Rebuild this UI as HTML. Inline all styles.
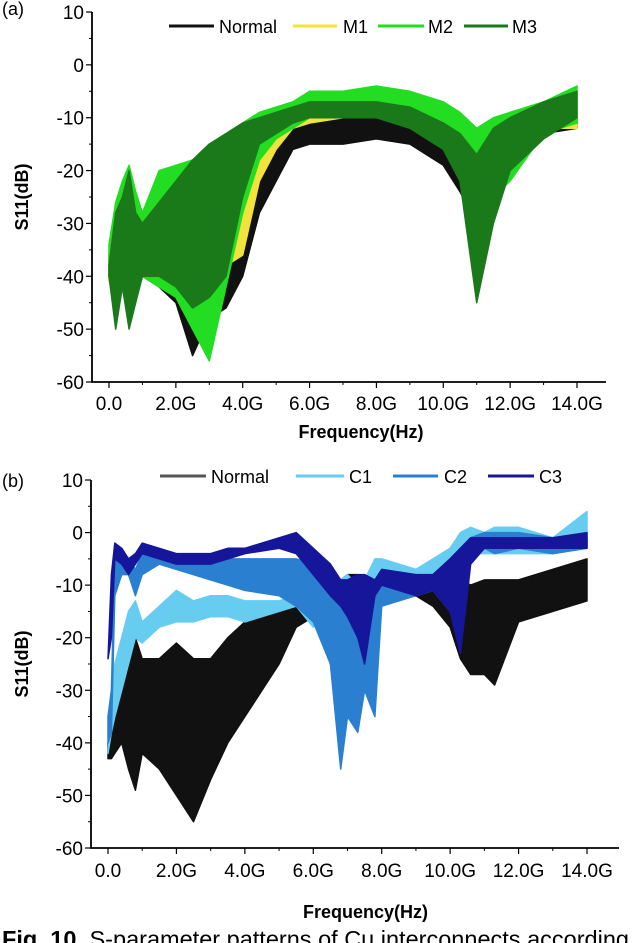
<!DOCTYPE html>
<html><head><meta charset="utf-8">
<style>
html,body{margin:0;padding:0;background:#fff;width:640px;height:943px;overflow:hidden}
svg{display:block}
text{font-family:"Liberation Sans",sans-serif}
</style></head>
<body>
<svg id="fig" width="640" height="943" viewBox="0 0 640 943" xmlns="http://www.w3.org/2000/svg"></svg>
<script>
// ---- Panel (a) data ----
const freqA = [0,0.2,0.4,0.6,0.8,1.0,1.5,2.0,2.5,3.0,3.5,4.0,4.5,5.0,5.5,6,7,8,9,10,10.5,11,11.5,12,13,14];
const normalAUp = [-36,-30,-28,-25,-30,-32,-28,-26,-24,-22,-22,-20,-18,-16,-12,-10,-9,-10,-11,-13,-15,-17,-14,-13,-11,-9];
const normalALo = [-40,-42,-40,-45,-44,-40,-42,-45,-55,-48,-46,-40,-28,-22,-16,-15,-15,-14,-15,-19,-24,-30,-28,-17,-13,-12];
const m1Up = [-35,-28,-25,-22,-25,-28,-22,-19,-20,-22,-18,-14,-11,-9,-8,-7,-6,-6,-7,-9,-11,-14,-12,-11,-8,-6];
const m1Lo = [-41,-40,-38,-40,-40,-38,-40,-42,-50,-50,-38,-36,-22,-16,-12,-11,-10,-10,-11,-14,-18,-25,-22,-15,-12,-12];
const m2Up = [-34,-26,-22,-19,-24,-28,-20,-19,-18,-15,-13,-11,-9,-8,-7,-5,-5,-4,-5,-7,-9,-12,-10,-9,-7,-4];
const m2Lo = [-40,-48,-40,-46,-42,-40,-42,-44,-50,-56,-42,-28,-18,-14,-12,-10,-9,-9,-10,-14,-20,-35,-25,-22,-13,-11];
const m3Up = [-38,-28,-25,-20,-28,-30,-26,-22,-18,-15,-13,-11,-10,-9,-8,-7,-7,-7,-8,-11,-13,-17,-12,-10,-7,-5];
const m3Lo = [-40,-50,-42,-50,-45,-40,-40,-42,-46,-44,-40,-25,-15,-13,-11,-10,-10,-10,-12,-16,-22,-45,-30,-20,-14,-10];
// ---- Panel (b) data ----
const freqB = [0,0.1,0.2,0.4,0.6,0.8,1.0,1.5,2.0,2.5,3,3.5,4,5,5.5,6,6.5,6.8,7,7.3,7.5,7.8,8,9,9.5,10,10.3,10.6,11,11.3,12,13,14];
const normalBUp = [-40,-38,-30,-28,-26,-20,-24,-24,-21,-24,-24,-20,-17,-15,-13,-12,-10,-9,-8,-8,-9,-10,-8,-10,-9,-9,-9,-10,-9,-9,-9,-7,-5];
const normalBLo = [-43,-43,-42,-40,-45,-49,-42,-45,-50,-55,-47,-40,-35,-25,-18,-16,-15,-14,-13,-13,-13,-13,-13,-12,-14,-18,-24,-27,-27,-29,-17,-15,-13];
const c1Up = [-42,-30,-25,-20,-15,-13,-17,-14,-11,-13,-12,-12,-13,-13,-12,-12,-10,-9,-8,-10,-9,-5,-5,-7,-5,-3,0,1,0,1,1,-1,4];
const c1Lo = [-42,-38,-35,-30,-25,-20,-21,-18,-17,-17,-16,-16,-17,-15,-14,-18,-15,-15,-16,-15,-15,-13,-12,-12,-11,-10,-7,-4,-4,-4,-4,-4,-3];
const c2Up = [-35,-30,-5,-3,-5,-7,-4,-4,-5,-5,-5,-5,-5,-5,-5,-6,-8,-9,-10,-11,-11,-10,-9,-10,-8,-5,-3,-1,0,0,0,-1,-1];
const c2Lo = [-40,-38,-12,-8,-8,-12,-8,-6,-7,-8,-9,-10,-11,-12,-14,-17,-25,-45,-35,-38,-30,-35,-14,-12,-11,-15,-20,-5,-3,-4,-3,-4,-3];
const c3Up = [-24,-8,-2,-3,-5,-4,-2,-3,-4,-4,-4,-3,-3,-1,0,-3,-6,-9,-9,-8,-8,-9,-7,-8,-8,-5,-3,-1,-1,-1,-1,-1,0];
const c3Lo = [-24,-20,-5,-6,-8,-6,-4,-5,-6,-6,-6,-5,-4,-3,-4,-8,-12,-14,-16,-20,-25,-12,-10,-12,-11,-15,-23,-6,-3,-3,-3,-3,-3];
const yTicks = [10,0,-10,-20,-30,-40,-50,-60];
const xTicks = [0,2,4,6,8,10,12,14];
const xTickLabels = ["0.0","2.0G","4.0G","6.0G","8.0G","10.0G","12.0G","14.0G"];

const NS="http://www.w3.org/2000/svg";
const svg=document.getElementById('fig');
function mk(tag,attrs,parent,txt){const e=document.createElementNS(NS,tag);for(const k in attrs)e.setAttribute(k,attrs[k]);if(txt!==undefined)e.textContent=txt;(parent||svg).appendChild(e);return e;}

function panel(cfg){
  const g=mk('g',{});
  
  
  const xs=v=>cfg.x0+(v-0)/14*(cfg.x14-cfg.x0);
  const ys=v=>cfg.yTop+(10-v)/70*(cfg.yBot-cfg.yTop);
  cfg.series.forEach(s=>{
    let d='M'+cfg.f.map((f,i)=>xs(f).toFixed(1)+','+ys(s.up[i]).toFixed(1)).join(' L');
    for(let i=cfg.f.length-1;i>=0;i--) d+=' L'+xs(cfg.f[i]).toFixed(1)+','+ys(s.lo[i]).toFixed(1);
    d+='Z';
    const p=mk('path',{d:d,fill:s.color,stroke:s.color,'stroke-width':1.5,'stroke-linejoin':'round'},g);
    
    
  });
  const ax=mk('path',{d:`M${cfg.ax},${cfg.yTop} L${cfg.ax},${cfg.yBot} L${cfg.xEnd},${cfg.yBot}`,fill:'none',stroke:'#000','stroke-width':1.8},g);
  
  
  yTicks.forEach(v=>{
    mk('line',{x1:cfg.ax-6,x2:cfg.ax,y1:ys(v),y2:ys(v),stroke:'#000','stroke-width':1.2},g);
    if(v>-60) mk('line',{x1:cfg.ax-3,x2:cfg.ax,y1:ys(v-5),y2:ys(v-5),stroke:'#000','stroke-width':1},g);
    const t=mk('text',{x:cfg.ax-8,y:ys(v)+7,'text-anchor':'end','font-size':19,fill:'#000'},g,String(v));
    
    
  });
  xTicks.forEach((v,i)=>{
    mk('line',{x1:xs(v),x2:xs(v),y1:cfg.yBot,y2:cfg.yBot+6,stroke:'#000','stroke-width':1.2},g);
    if(v<14) mk('line',{x1:xs(v+1),x2:xs(v+1),y1:cfg.yBot,y2:cfg.yBot+3,stroke:'#000','stroke-width':1},g);
    const t=mk('text',{x:xs(v),y:cfg.xLabY,'text-anchor':'middle','font-size':19,fill:'#000'},g,xTickLabels[i]);
    
    
  });
  const xt=mk('text',{x:(cfg.x0+cfg.x14)/2+18,y:cfg.xTitleY,'text-anchor':'middle','font-size':18,'font-weight':'bold'},g,'Frequency(Hz)');
  
  
  const yt=mk('text',{x:0,y:0,transform:`translate(28,${(cfg.yTop+cfg.yBot)/2}) rotate(-90)`,'text-anchor':'middle','font-size':18,'font-weight':'bold'},g,'S11(dB)');
  
  
  const pl=mk('text',{x:2,y:cfg.labY,'font-size':18,'font-family':'Liberation Serif'},g,cfg.label);
  
  
  cfg.legend.forEach(l=>{
    const le=mk('g',{},g);
    
    
    mk('line',{x1:l.x1,x2:l.x2,y1:cfg.legY,y2:cfg.legY,stroke:l.color,'stroke-width':3},le);
    mk('text',{x:l.tx,y:cfg.legY+7,'font-size':18},le,l.text);
  });
}

panel({name:'panel-a',label:'(a)',labY:15,f:freqA,ax:92,x0:109,x14:577,xEnd:606,yTop:12,yBot:382,xLabY:410,xTitleY:438,legY:26,
  series:[
    {key:'normal',color:'#111',up:normalAUp,lo:normalALo},
    {key:'m1',color:'#f2e23c',up:m1Up,lo:m1Lo},
    {key:'m2',color:'#22dd22',up:m2Up,lo:m2Lo},
    {key:'m3',color:'#1a7a1a',up:m3Up,lo:m3Lo}],
  legend:[
    {x1:169,x2:214,tx:219,text:'Normal',color:'#111'},
    {x1:293,x2:337,tx:343,text:'M1',color:'#f2e23c'},
    {x1:378,x2:424,tx:428,text:'M2',color:'#22dd22'},
    {x1:464,x2:508,tx:512,text:'M3',color:'#1a7a1a'}]
});
panel({name:'panel-b',label:'(b)',labY:487,f:freqB,ax:91,x0:108,x14:587,xEnd:619,yTop:480,yBot:848,xLabY:877,xTitleY:918,legY:476,
  series:[
    {key:'normal',color:'#111',up:normalBUp,lo:normalBLo},
    {key:'c1',color:'#66ccf0',up:c1Up,lo:c1Lo},
    {key:'c2',color:'#2a7fd0',up:c2Up,lo:c2Lo},
    {key:'c3',color:'#16169a',up:c3Up,lo:c3Lo}],
  legend:[
    {x1:160,x2:206,tx:211,text:'Normal',color:'#555'},
    {x1:296,x2:344,tx:349,text:'C1',color:'#66ccf0'},
    {x1:393,x2:438,tx:444,text:'C2',color:'#2a7fd0'},
    {x1:488,x2:534,tx:539,text:'C3',color:'#16169a'}]
});
const cap=mk('text',{x:2,y:947,'font-size':23.5,'font-family':'Liberation Serif'});


mk('tspan',{'font-weight':'bold'},cap,'Fig. 10. ');
mk('tspan',{},cap,'S-parameter patterns of Cu interconnects according');
</script>
</body></html>
